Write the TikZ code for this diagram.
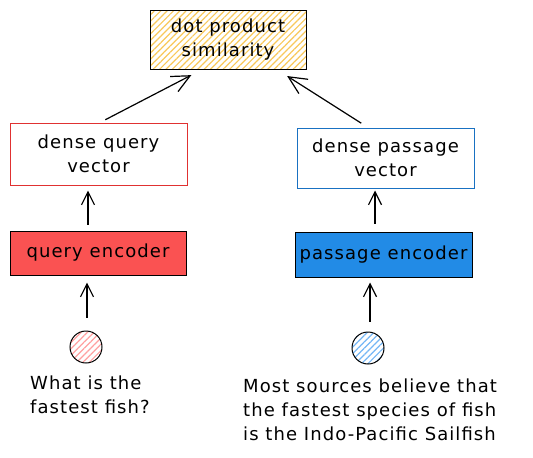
\documentclass[tikz,border=0pt]{standalone}
\usepackage{fontspec}
\setmainfont[LetterSpace=6]{DejaVu Sans}
\usetikzlibrary{arrows.meta, patterns.meta}
\definecolor{hatchyellow}{HTML}{F8C85A}
\definecolor{hatchred}{HTML}{FFA0A0}
\definecolor{hatchblue}{HTML}{74B6F5}
\definecolor{qred}{HTML}{FA5252}
\definecolor{qredline}{HTML}{E03131}
\definecolor{pblue}{HTML}{228BE6}
\definecolor{pblueline}{HTML}{1971C2}
\tikzset{
    hand/.style={font=\fontsize{18}{24}\selectfont},
    box/.style={rectangle, draw, line width=1pt, align=center, hand, inner sep=0pt},
    hatch/.style={pattern={Lines[angle=45,distance=4.5pt,line width=1.2pt]}, pattern color=#1},
    dot/.style={circle, draw, line width=1pt, minimum size=32pt, inner sep=0pt},
    textnode/.style={hand, align=left, inner sep=0pt},
    arr/.style={-{Straight Barb[length=13pt,width=13pt,line width=1.2pt]}, line width=1.2pt},
    longarr/.style={-{Straight Barb[length=18pt,width=17pt,line width=1.2pt]}, line width=1.2pt}}
\begin{document}
\begin{tikzpicture}[x=1pt,y=-1pt]
\useasboundingbox (0,0) rectangle (533,458);
\node[box, hatch=hatchyellow, minimum width=156pt, minimum height=59pt] (sim) at (228,39.5) {dot product\\similarity};
\node[box, draw=qredline, fill=white, minimum width=177pt, minimum height=62pt] (qvec) at (98.5,154) {dense query\\vector};
\node[box, draw=pblueline, fill=white, minimum width=177pt, minimum height=60pt] (pvec) at (385.5,158) {dense passage\\vector};
\node[box, fill=qred, minimum width=176pt, minimum height=44pt] (qenc) at (98,253) {query encoder};
\node[box, fill=pblue, minimum width=177pt, minimum height=45pt] (penc) at (383.5,254.5) {passage encoder};
\node[dot, hatch=hatchred] (qdot) at (86,347) {};
\node[dot, hatch=hatchblue] (pdot) at (368,348) {};
\node[textnode, anchor=north west] (qtext) at (30,376) {What is the\\fastest fish?};
\node[textnode, anchor=north west] (ptext) at (243,379) {Most sources believe that\\the fastest species of fish\\is the Indo-Pacific Sailfish};

% inputs to encoders
\draw[arr, shorten <=13pt, shorten >=7pt] ([xshift=1pt]qdot.north) -- ([xshift=-11pt]qenc.south);
\draw[arr, shorten <=10pt, shorten >=5pt] ([xshift=2pt]pdot.north) -- ([xshift=-13.5pt]penc.south);
% encoders to vectors
\draw[arr, shorten <=6pt, shorten >=5pt] ([xshift=-10pt]qenc.north) -- ([xshift=-10.5pt]qvec.south);
\draw[arr, shorten <=8pt, shorten >=2pt] ([xshift=-8.5pt]penc.north) -- ([xshift=-10.5pt]pvec.south);
% vectors to similarity
\draw[longarr, shorten <=6pt, shorten >=12pt] ([xshift=1.5pt]qvec.north) -- ([xshift=-26pt]sim.south);
\draw[longarr, shorten <=8pt, shorten >=12pt] ([xshift=-17.5pt]pvec.north) -- ([xshift=49pt]sim.south);
\end{tikzpicture}
\end{document}
